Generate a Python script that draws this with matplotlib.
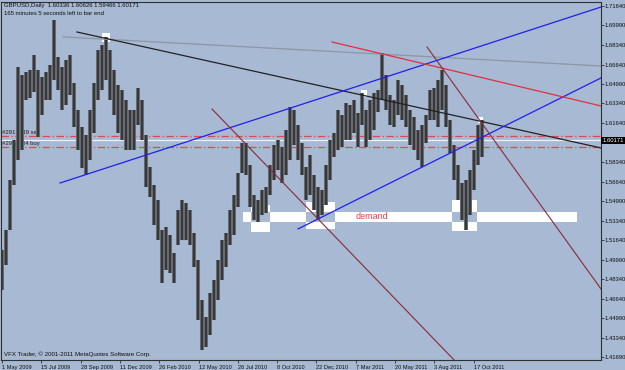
import numpy as np
import matplotlib.pyplot as plt
from matplotlib.patches import Rectangle

# GBPUSD daily, high/low per block of ~5.5 daily bars
highs = [1.5083, 1.5253, 1.5680, 1.6021, 1.6644, 1.6575, 1.6601, 1.6618, 1.6746, 1.6618,
         1.6558, 1.6601, 1.6661, 1.7045, 1.6729, 1.6644, 1.6703, 1.6746, 1.6507, 1.6277,
         1.6132, 1.6064, 1.6277, 1.6507, 1.6789, 1.6831, 1.6900, 1.6789, 1.6618, 1.6490,
         1.6447, 1.6362, 1.6277, 1.6277, 1.6465, 1.6362, 1.6064, 1.5791, 1.5637, 1.5509,
         1.5253, 1.5279, 1.5211, 1.5057, 1.5424, 1.5509, 1.5484, 1.5424, 1.5228, 1.4997,
         1.4656, 1.4511, 1.4716, 1.4827, 1.4997, 1.5168, 1.5228, 1.5424, 1.5552, 1.5740,
         1.5995, 1.5995, 1.5808, 1.5552, 1.5509, 1.5594, 1.5620, 1.5808, 1.5978, 1.6021,
         1.5961, 1.6106, 1.6302, 1.6277, 1.6149, 1.5995, 1.5791, 1.5893, 1.5722, 1.5620,
         1.5594, 1.5808, 1.6021, 1.6081, 1.6277, 1.6234, 1.6337, 1.6320, 1.6362, 1.6251,
         1.6422, 1.6277, 1.6362, 1.6422, 1.6447, 1.6763, 1.6575, 1.6405, 1.6362, 1.6533,
         1.6490, 1.6405, 1.6277, 1.6217, 1.6106, 1.6149, 1.6234, 1.6447, 1.6465, 1.6533,
         1.6618, 1.6490, 1.6192, 1.5978, 1.5808, 1.5654, 1.5680, 1.5765, 1.5936, 1.6149,
         1.6192]
lows = [1.4741, 1.4955, 1.5253, 1.5637, 1.5850, 1.5936, 1.6362, 1.6379, 1.6430, 1.6047,
        1.6234, 1.6362, 1.6362, 1.6533, 1.6447, 1.6277, 1.6320, 1.6405, 1.6132, 1.5936,
        1.5782, 1.5722, 1.5850, 1.6081, 1.6362, 1.6447, 1.6533, 1.6362, 1.6234, 1.6081,
        1.6021, 1.5936, 1.5936, 1.5936, 1.6149, 1.6021, 1.5620, 1.5535, 1.5296, 1.5168,
        1.4801, 1.4912, 1.4887, 1.4801, 1.5125, 1.5168, 1.5168, 1.5125, 1.4938, 1.4486,
        1.4230, 1.4255, 1.4358, 1.4486, 1.4656, 1.4827, 1.4938, 1.5125, 1.5211, 1.5449,
        1.5740, 1.5722, 1.5449, 1.5339, 1.5322, 1.5381, 1.5398, 1.5552, 1.5680, 1.5765,
        1.5654, 1.5722, 1.5850, 1.5978, 1.5850, 1.5722, 1.5509, 1.5552, 1.5424, 1.5339,
        1.5381, 1.5467, 1.5680, 1.5876, 1.5936, 1.5961, 1.6021, 1.6021, 1.6081, 1.5961,
        1.6149, 1.5961, 1.6021, 1.6106, 1.6260, 1.6362, 1.6277, 1.6149, 1.6132, 1.6234,
        1.6192, 1.6132, 1.5978, 1.5936, 1.5850, 1.5791, 1.5995, 1.6192, 1.6192, 1.6132,
        1.6277, 1.6132, 1.5910, 1.5680, 1.5509, 1.5339, 1.5253, 1.5381, 1.5594, 1.5808,
        1.5876]
bars_per_block = 5.5

date_labels = ['1 May 2009', '15 Jul 2009', '28 Sep 2009', '11 Dec 2009', '26 Feb 2010',
               '12 May 2010', '26 Jul 2010', '8 Oct 2010', '22 Dec 2010', '7 Mar 2011',
               '20 May 2011', '3 Aug 2011', '17 Oct 2011']
label_step = 54  # daily bars between date labels

price_ticks = [1.71640, 1.69990, 1.68340, 1.66640, 1.64990, 1.63340, 1.61640, 1.58340,
               1.56640, 1.54990, 1.53340, 1.51640, 1.49990, 1.48340, 1.46640, 1.44990,
               1.43340, 1.41690]

bid = 1.60171
sell_price = 1.6055
buy_price = 1.5961

# trend lines: (bar0, price0, bar1, price1)
blue_upper = (79.7, 1.5654, 823, 1.7155)
blue_lower = (406.7, 1.5262, 823, 1.6550)
black_line = (103.0, 1.6942, 823, 1.5953)
gray_line = (83.8, 1.6900, 823, 1.6652)
red_line = (453.4, 1.6857, 823, 1.6311)
maroon_1 = (288.5, 1.6285, 621.0, 1.4145)
maroon_2 = (584.0, 1.6814, 823, 1.4750)

# demand zone band and the three boxes (bar0, bar1, price_lo, price_hi)
demand_band = (331, 790, 1.5322, 1.5407)
demand_boxes = [(342, 368, 1.5236, 1.5467),
                (417.7, 457.5, 1.5262, 1.5492),
                (618, 652.7, 1.5245, 1.5509)]
markers = [(137.4, 148.4, 1.6857, 1.6934),
           (493.3, 501.5, 1.6388, 1.6447),
           (654, 661, 1.6166, 1.6217)]

bg = '#a7b9d3'
fnt = 'Liberation Sans'

fig = plt.figure(figsize=(6.25, 3.7), dpi=100, facecolor=bg)
ax = fig.add_axes([1/625, 10/370, 600/625, 358/370], facecolor=bg)

def rect(b0, b1, p0, p1, color, z):
    ax.add_patch(Rectangle((b0, p0), b1 - b0, p1 - p0, facecolor=color,
                           edgecolor='none', zorder=z))

# demand zone, XOR look: overlaps show the background
for b in demand_boxes:
    rect(*b, 'white', 1)
rect(*demand_band, 'white', 1)
for b in demand_boxes:
    rect(b[0], b[1], demand_band[2], demand_band[3], bg, 1.1)
for m in markers:
    rect(*m, 'white', 1)

ax.text(508, 1.5366, 'demand', color='#f03c4a', fontsize=6.5, family=fnt,
        ha='center', va='center', zorder=2)

# price bars: grey halo + dark core
xs = np.arange(len(highs)) * bars_per_block
ax.vlines(xs, lows, highs, colors='#686d76', linewidth=2.9, zorder=3)
ax.vlines(xs, lows, highs, colors='#383838', linewidth=1.5, zorder=3.1)

# order + bid lines
ax.axhline(sell_price, color='#e8464e', lw=0.9, ls=(0, (6, 2, 1, 2)), zorder=2)
ax.axhline(buy_price, color='#e8464e', lw=0.9, ls=(0, (6, 2, 1, 2)), zorder=2)
ax.axhline(bid, color='#eef0f4', lw=0.9, zorder=2)
ax.text(0.5, sell_price + 0.0010, '#2913339 sell', fontsize=4.3, family=fnt,
        color='#202020', va='bottom', zorder=2)
ax.text(0.5, buy_price + 0.0010, '#2911034 buy', fontsize=4.3, family=fnt,
        color='#202020', va='bottom', zorder=2)

for ln, col, lw in [(gray_line, '#8c96a4', 0.9), (black_line, '#222222', 0.9),
                    (blue_upper, '#2020ee', 0.9), (blue_lower, '#2020ee', 0.9),
                    (red_line, '#e23040', 0.9), (maroon_1, '#8a2a3a', 0.8),
                    (maroon_2, '#8a2a3a', 0.8)]:
    ax.plot([ln[0], ln[2]], [ln[1], ln[3]], color=col, lw=lw, zorder=4)

ax.set_xlim(-1.4, 823)
ax.set_ylim(1.4144, 1.7198)

ax.yaxis.tick_right()
ax.set_yticks(price_ticks)
ax.set_yticklabels(['%.5f' % p for p in price_ticks])
ax.set_xticks([i * label_step for i in range(len(date_labels))])
ax.set_xticklabels(date_labels)
ax.tick_params(axis='x', length=2.5, width=0.6, color='#303030',
               labelcolor='#101010', pad=1.2)
ax.tick_params(axis='y', length=2, width=0.6, color='#303030',
               labelcolor='#101010', pad=0.6)
for t in ax.get_xticklabels():
    t.set_ha('left')
    t.set_family(fnt)
    t.set_fontsize(4.1)
for t in ax.get_yticklabels():
    t.set_family(fnt)
    t.set_fontsize(4.2)

for s in ax.spines.values():
    s.set_color('#303030')
    s.set_linewidth(0.8)

# current price box on the axis
ax.text(1.002, bid, '%.5f' % bid, transform=ax.get_yaxis_transform(), fontsize=4.2,
        family=fnt, color='white', va='center', ha='left', clip_on=False,
        bbox=dict(boxstyle='square,pad=0.2', facecolor='black', edgecolor='none'))

fig.text(4/625, 1 - 6/370, 'GBPUSD,Daily  1.60336 1.60626 1.59466 1.60171', fontsize=4.3,
         family=fnt, va='center', color='#101010')
fig.text(4/625, 1 - 13.5/370, '165 minutes 5 seconds left to bar end', fontsize=4.3,
         family=fnt, va='center', color='#101010')
fig.text(4/625, 1 - 354/370, 'VFX Trader, \u00a9 2001-2011 MetaQuotes Software Corp.',
         fontsize=4.4, family=fnt, va='center', color='#101010')

fig.savefig('out.png', dpi=100, facecolor=bg)
